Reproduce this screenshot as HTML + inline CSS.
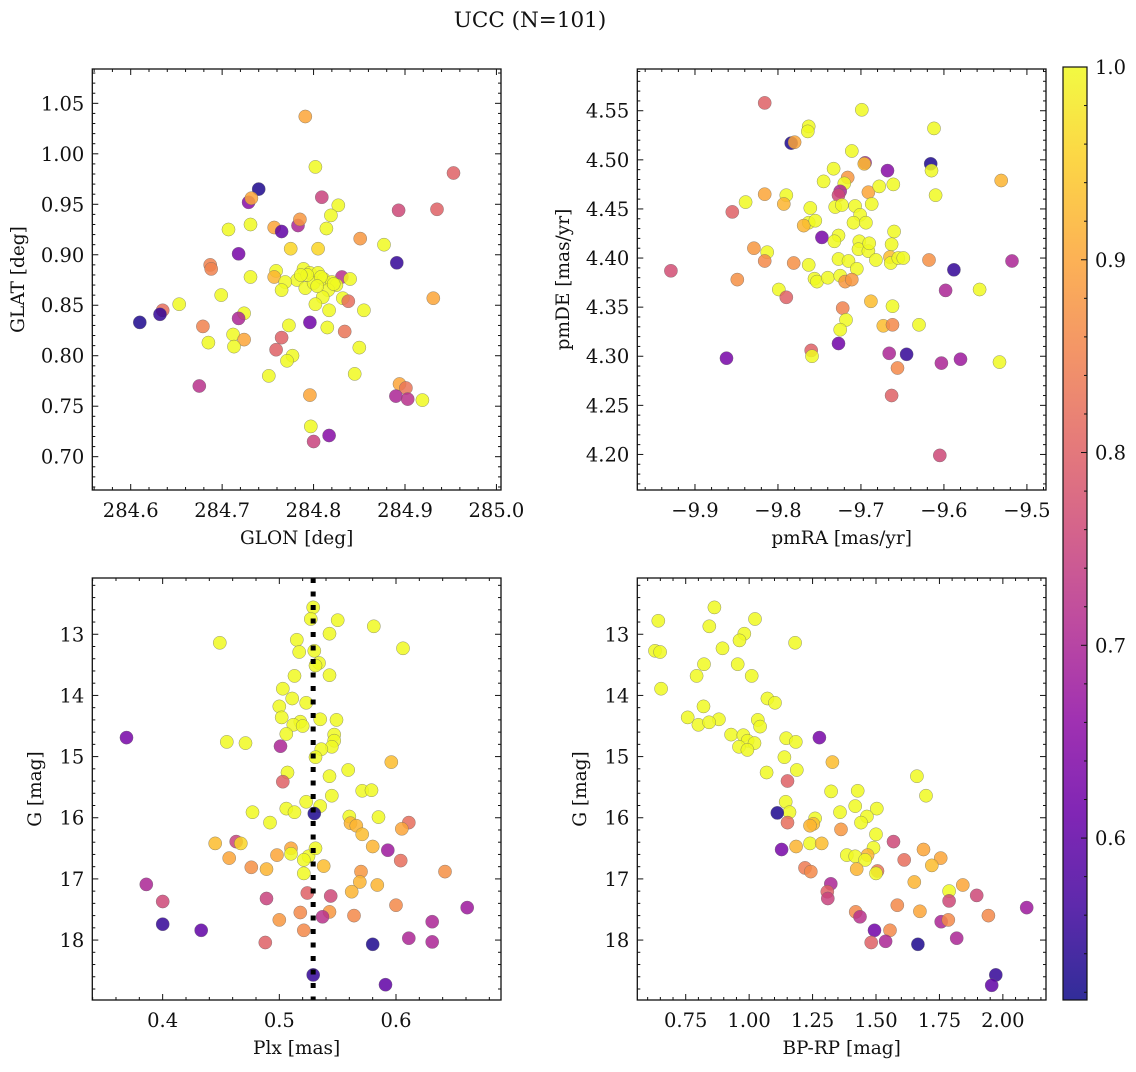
<!DOCTYPE html>
<html><head><meta charset="utf-8"><style>
html,body{margin:0;padding:0;background:#fff;}
svg text{font-family:"DejaVu Serif","Liberation Serif",serif;fill:#111;}
</style></head><body>
<svg id="fig" width="1136" height="1067" viewBox="0 0 1136 1067" xmlns="http://www.w3.org/2000/svg">
<defs><linearGradient id="plasmaGrad" x1="0" y1="1" x2="0" y2="0"></linearGradient></defs>
<text x="530" y="27" font-size="21.5" text-anchor="middle">UCC (N=101)</text>
</svg>
<script>
// ---- Panel 1: GLON vs GLAT ----
const glon = [284.791,284.802,284.953,284.740,284.809,284.729,284.732,284.827,284.893,284.935,284.819,284.731,284.707,284.757,284.765,284.783,284.785,284.814,284.851,284.877,284.775,284.805,284.718,284.891,284.687,284.688,284.759,284.731,284.757,284.789,284.796,284.805,284.831,284.840,284.782,284.769,284.765,284.791,284.800,284.811,284.820,284.825,284.816,284.699,284.653,284.635,284.632,284.610,284.810,284.802,284.832,284.838,284.817,284.855,284.931,284.724,284.718,284.796,284.679,284.773,284.815,284.834,284.712,284.685,284.724,284.713,284.765,284.759,284.850,284.777,284.771,284.751,284.845,284.675,284.894,284.901,284.890,284.903,284.919,284.796,284.797,284.800,284.817,284.793,284.808,284.822,284.786,284.804];
const glat = [1.037,0.987,0.981,0.965,0.957,0.952,0.956,0.949,0.944,0.945,0.939,0.930,0.925,0.927,0.923,0.929,0.935,0.926,0.916,0.910,0.906,0.906,0.901,0.892,0.890,0.886,0.884,0.878,0.878,0.886,0.882,0.882,0.878,0.876,0.875,0.873,0.865,0.867,0.872,0.876,0.873,0.870,0.865,0.860,0.851,0.845,0.841,0.833,0.858,0.851,0.857,0.854,0.845,0.845,0.857,0.842,0.837,0.833,0.829,0.830,0.828,0.824,0.821,0.813,0.816,0.809,0.818,0.806,0.808,0.800,0.795,0.780,0.782,0.770,0.772,0.768,0.760,0.757,0.756,0.761,0.730,0.715,0.721,0.880,0.878,0.871,0.880,0.869];
const prob1 = [0.9,1,0.8,0.53,0.75,0.65,0.9,1,0.76,0.8,1,1,1,0.9,0.6,0.7,0.88,1,0.88,1,0.96,0.96,0.63,0.55,0.85,0.85,1,1,0.92,1,1,1,0.72,1,1,1,1,1,1,1,1,1,1,1,1,0.82,0.55,0.53,1,1,1,0.82,1,1,0.9,1,0.7,0.62,0.85,1,1,0.83,1,1,0.9,1,0.8,0.8,1,1,1,1,1,0.72,0.9,0.83,0.7,0.72,1,0.9,1,0.75,0.65,1,1,1,1,1];

// ---- Panel 2: pmRA vs pmDE ----
const pmra = [-9.816,-9.699,-9.763,-9.764,-9.784,-9.780,-9.612,-9.711,-9.695,-9.696,-9.616,-9.615,-9.668,-9.733,-9.745,-9.716,-9.720,-9.725,-9.727,-9.691,-9.678,-9.661,-9.610,-9.531,-9.816,-9.790,-9.793,-9.839,-9.855,-9.761,-9.763,-9.769,-9.755,-9.731,-9.723,-9.707,-9.701,-9.709,-9.694,-9.687,-9.747,-9.727,-9.732,-9.702,-9.703,-9.691,-9.690,-9.660,-9.663,-9.665,-9.664,-9.655,-9.649,-9.682,-9.829,-9.813,-9.816,-9.781,-9.763,-9.727,-9.715,-9.705,-9.756,-9.753,-9.740,-9.725,-9.719,-9.711,-9.929,-9.849,-9.618,-9.588,-9.518,-9.598,-9.557,-9.799,-9.790,-9.688,-9.662,-9.722,-9.718,-9.725,-9.673,-9.662,-9.630,-9.727,-9.760,-9.759,-9.862,-9.666,-9.645,-9.580,-9.603,-9.533,-9.656,-9.663,-9.605];
const pmde = [4.558,4.551,4.534,4.529,4.517,4.518,4.532,4.509,4.497,4.496,4.496,4.489,4.489,4.491,4.478,4.482,4.476,4.468,4.464,4.467,4.473,4.475,4.464,4.479,4.465,4.464,4.455,4.457,4.447,4.451,4.436,4.433,4.438,4.452,4.454,4.453,4.444,4.436,4.436,4.455,4.421,4.423,4.417,4.417,4.409,4.407,4.415,4.427,4.414,4.401,4.395,4.400,4.400,4.398,4.410,4.406,4.397,4.395,4.393,4.399,4.397,4.389,4.379,4.376,4.380,4.382,4.376,4.378,4.387,4.378,4.398,4.388,4.397,4.367,4.368,4.368,4.360,4.356,4.351,4.349,4.337,4.327,4.331,4.332,4.332,4.313,4.306,4.300,4.298,4.303,4.302,4.297,4.293,4.294,4.288,4.260,4.199];
const prob2 = [0.8,1,1,1,0.53,0.9,1,1,0.7,0.93,0.53,1,0.65,1,1,0.88,1,0.7,0.76,0.9,1,1,1,0.92,0.9,1,0.92,1,0.8,1,1,0.92,1,1,1,1,1,1,1,1,0.63,1,1,1,1,1,1,1,1,0.93,1,1,1,1,0.88,1,0.86,0.87,1,1,1,1,1,1,1,1,0.88,0.88,0.77,0.87,0.87,0.55,0.7,0.7,1,1,0.8,0.93,1,0.85,1,1,0.93,0.86,1,0.62,0.8,1,0.63,0.7,0.55,0.68,0.7,1,0.86,0.8,0.76];

// ---- Panel 3: Plx vs G ----
const plx = [0.529,0.527,0.550,0.581,0.543,0.449,0.515,0.517,0.530,0.606,0.534,0.531,0.513,0.543,0.503,0.511,0.523,0.500,0.502,0.535,0.549,0.518,0.512,0.520,0.506,0.547,0.547,0.545,0.536,0.531,0.455,0.471,0.369,0.501,0.596,0.507,0.503,0.559,0.543,0.571,0.579,0.545,0.523,0.535,0.506,0.513,0.530,0.477,0.492,0.560,0.561,0.566,0.571,0.585,0.611,0.605,0.445,0.463,0.467,0.457,0.498,0.510,0.510,0.525,0.521,0.531,0.580,0.593,0.604,0.476,0.489,0.521,0.538,0.570,0.569,0.584,0.642,0.386,0.400,0.489,0.524,0.544,0.562,0.600,0.661,0.518,0.543,0.537,0.564,0.500,0.631,0.400,0.433,0.521,0.488,0.611,0.631,0.580,0.529,0.591];
const gmag3 = [12.56,12.75,12.77,12.87,12.99,13.14,13.09,13.29,13.27,13.23,13.47,13.51,13.68,13.67,13.89,14.05,14.12,14.18,14.36,14.39,14.40,14.43,14.48,14.50,14.63,14.64,14.74,14.84,14.88,15.01,14.76,14.78,14.69,14.83,15.09,15.26,15.41,15.22,15.32,15.56,15.55,15.64,15.74,15.81,15.85,15.91,15.93,15.91,16.08,15.98,16.09,16.13,16.27,15.99,16.08,16.18,16.42,16.39,16.42,16.66,16.61,16.50,16.59,16.63,16.69,16.50,16.47,16.53,16.70,16.81,16.84,16.91,16.79,16.88,17.05,17.10,16.88,17.09,17.37,17.32,17.23,17.28,17.21,17.43,17.47,17.55,17.54,17.62,17.60,17.67,17.70,17.74,17.84,17.84,18.04,17.97,18.03,18.07,18.57,18.73];
const prob3 = [1,1,1,1,1,1,1,1,1,1,1,1,1,1,1,1,1,1,1,1,1,1,1,1,1,1,1,1,1,1,1,1,0.63,0.7,0.93,1,0.8,1,1,1,1,1,1,1,1,1,0.53,1,1,1,0.92,0.92,0.93,1,0.82,0.9,0.93,0.75,0.96,0.9,0.9,0.9,1,1,1,1,0.92,0.68,0.82,0.87,0.92,1,0.93,0.88,0.92,0.92,0.87,0.7,0.76,0.75,0.8,0.76,0.92,0.86,0.68,0.86,0.88,0.72,0.86,0.88,0.7,0.55,0.6,0.86,0.8,0.7,0.7,0.53,0.55,0.6];
const plxMedian = [0.529];

// ---- Panel 4: BP-RP vs G ----
const bprp = [0.863,0.642,1.023,0.843,0.981,0.962,1.181,0.895,0.629,0.649,0.822,0.955,0.793,1.010,0.653,1.072,1.102,0.820,0.758,0.881,0.800,0.842,1.034,1.043,0.929,0.977,0.994,1.021,0.960,0.993,1.277,1.146,1.184,1.139,1.328,1.069,1.188,1.151,1.661,1.697,1.323,1.428,1.418,1.503,1.144,1.159,1.111,1.358,1.464,1.441,1.260,1.253,1.240,1.151,1.362,1.500,1.569,1.128,1.185,1.240,1.286,1.385,1.418,1.490,1.467,1.457,1.687,1.611,1.755,1.720,1.220,1.243,1.424,1.506,1.500,1.322,1.308,1.310,1.651,1.842,1.788,1.897,1.788,1.584,1.673,1.943,2.094,1.420,1.437,1.757,1.785,1.494,1.555,1.481,1.538,1.818,1.665,1.972,1.956];
const gmag4 = [12.56,12.78,12.75,12.87,12.99,13.10,13.14,13.23,13.27,13.29,13.49,13.49,13.68,13.68,13.89,14.05,14.12,14.18,14.36,14.39,14.48,14.44,14.40,14.51,14.64,14.65,14.74,14.78,14.84,14.89,14.69,14.70,14.76,15.01,15.09,15.26,15.22,15.40,15.32,15.64,15.57,15.56,15.81,15.85,15.74,15.91,15.92,15.91,15.98,16.08,16.01,16.10,16.13,16.08,16.19,16.27,16.39,16.52,16.47,16.42,16.42,16.61,16.63,16.49,16.61,16.69,16.52,16.69,16.66,16.78,16.82,16.88,16.84,16.87,16.91,17.08,17.21,17.32,17.05,17.10,17.20,17.27,17.36,17.43,17.53,17.60,17.47,17.54,17.62,17.70,17.67,17.84,17.84,18.04,18.02,17.97,18.07,18.57,18.74];
const prob4 = [1,1,1,1,1,1,1,1,1,1,1,1,1,1,1,1,1,1,1,1,1,1,1,1,1,1,1,1,1,1,0.63,1,1,1,0.93,1,1,0.8,1,1,1,1,1,1,1,1,0.53,1,1,1,1,0.93,0.92,0.82,0.88,1,0.76,0.63,0.92,1,0.93,1,1,1,0.92,1,0.9,0.82,0.9,0.93,0.84,0.86,0.92,0.83,1,0.7,0.8,0.75,0.92,0.9,1,0.76,0.76,0.86,0.9,0.86,0.68,0.86,0.72,0.7,0.86,0.62,0.86,0.8,0.7,0.7,0.53,0.55,0.6];

// ---- Colorbar ----
const cbarMin = 0.516, cbarMax = 1.0;
const cbarTicks = [0.6,0.7,0.8,0.9,1.0];

const NS = "http://www.w3.org/2000/svg";
const svg = document.getElementById('fig');
function mk(tag, attrs, parent){const e=document.createElementNS(NS,tag);for(const k in attrs)e.setAttribute(k,attrs[k]);(parent||svg).appendChild(e);return e;}

const plasma = ["#0d0887","#41049d","#6a00a8","#8f0da4","#b12a90","#cc4778","#e16462","#f2844b","#fca636","#fcce25","#f0f921"];
function hex(h){return [parseInt(h.substr(1,2),16),parseInt(h.substr(3,2),16),parseInt(h.substr(5,2),16)];}
function cmap(p){let t=(p-cbarMin)/(cbarMax-cbarMin);t=Math.max(0,Math.min(1,t));const f=t*10;const i=Math.min(9,Math.floor(f));const u=f-i;const a=hex(plasma[i]),b=hex(plasma[i+1]);return 'rgb('+a.map((v,k)=>Math.round(v+(b[k]-v)*u)).join(',')+')';}

function fmt(v,d){const s=Math.abs(v).toFixed(d);return (v<0?'\u2212':'')+s;}

const TFS = 19.5, LFS = 18.5;
function panel(cfg){
  const {name,L,R,T,B,x0,x1,y0,y1,xs,ys,ps,xMaj,xMin,yMaj,yMin,xd,yd,xlabel,ylabel,ylabX}=cfg;
  const sx=v=>L+(v-x0)/(x1-x0)*(R-L);
  const sy=v=>T+(v-y0)/(y1-y0)*(B-T);
  const g=mk('g',{});
  
  
  const pts=mk('g',{},g);
  
  
  for(let i=0;i<xs.length;i++){
    const c=mk('circle',{cx:sx(xs[i]).toFixed(1),cy:sy(ys[i]).toFixed(1),r:6.6,fill:cmap(ps[i]),'fill-opacity':0.85,stroke:'#666','stroke-width':0.5,'stroke-opacity':0.7},pts);
    
    
  }
  if(cfg.after) cfg.after(g,sx,sy);
  const fr=mk('rect',{x:L,y:T,width:R-L,height:B-T,fill:'none',stroke:'#111','stroke-width':1.3},g);
  
  
  const eps=1e-9;
  for(let v=Math.ceil(x0/xMin-eps)*xMin; v<=x1+eps; v+=xMin){
    const px=sx(v); const isMaj=Math.abs(v/xMaj-Math.round(v/xMaj))<1e-6; const len=isMaj?6:3;
    mk('line',{x1:px,y1:B,x2:px,y2:B-len,stroke:'#111','stroke-width':1},g);
    mk('line',{x1:px,y1:T,x2:px,y2:T+len,stroke:'#111','stroke-width':1},g);
    if(isMaj){const t=mk('text',{x:px,y:B+27,'font-size':TFS,'text-anchor':'middle'},g);t.textContent=fmt(v,xd);
      
      }
  }
  for(let v=Math.ceil(Math.min(y0,y1)/yMin-eps)*yMin; v<=Math.max(y0,y1)+eps; v+=yMin){
    const py=sy(v); const isMaj=Math.abs(v/yMaj-Math.round(v/yMaj))<1e-6; const len=isMaj?6:3;
    mk('line',{x1:L,y1:py,x2:L+len,y2:py,stroke:'#111','stroke-width':1},g);
    mk('line',{x1:R,y1:py,x2:R-len,y2:py,stroke:'#111','stroke-width':1},g);
    if(isMaj){const t=mk('text',{x:L-8,y:py+7,'font-size':TFS,'text-anchor':'end'},g);t.textContent=fmt(v,yd);
      
      }
  }
  const xl=mk('text',{x:(L+R)/2,y:B+54,'font-size':LFS,'text-anchor':'middle'},g);xl.textContent=xlabel;
  
  
  const yl=mk('text',{x:ylabX,y:(T+B)/2,'font-size':LFS,'text-anchor':'middle',transform:'rotate(-90 '+ylabX+' '+((T+B)/2)+')'},g);yl.textContent=ylabel;
  
  
}

panel({name:'glon-glat-panel',L:92.3,R:501,T:69,B:490,x0:284.558,x1:285.005,y0:1.084,y1:0.667,xs:glon,ys:glat,ps:prob1,xMaj:0.1,xMin:0.02,yMaj:0.05,yMin:0.01,xd:1,yd:2,xlabel:'GLON [deg]',ylabel:'GLAT [deg]',ylabX:24});
panel({name:'pm-panel',L:637.3,R:1046,T:69,B:490,x0:-9.9695,x1:-9.477,y0:4.5925,y1:4.1638,xs:pmra,ys:pmde,ps:prob2,xMaj:0.1,xMin:0.02,yMaj:0.05,yMin:0.01,xd:1,yd:2,xlabel:'pmRA [mas/yr]',ylabel:'pmDE [mas/yr]',ylabX:569});
panel({name:'plx-g-panel',L:92.3,R:501,T:578,B:1000,x0:0.3397,x1:0.69,y0:12.08,y1:18.98,xs:plx,ys:gmag3,ps:prob3,xMaj:0.1,xMin:0.02,yMaj:1,yMin:0.2,xd:1,yd:0,xlabel:'Plx [mas]',ylabel:'G [mag]',ylabX:41,
  after:(g,sx,sy)=>{const l=mk('line',{x1:sx(plxMedian[0]),y1:578,x2:sx(plxMedian[0]),y2:1000,stroke:'#000','stroke-width':5,'stroke-dasharray':'5 8.5'},g);
    
    }});
panel({name:'cmd-panel',L:637.3,R:1046,T:578,B:1000,x0:0.5592,x1:2.170,y0:12.08,y1:18.98,xs:bprp,ys:gmag4,ps:prob4,xMaj:0.25,xMin:0.05,yMaj:1,yMin:0.2,xd:2,yd:0,xlabel:'BP-RP [mag]',ylabel:'G [mag]',ylabX:586});

const grad=document.getElementById('plasmaGrad');
plasma.forEach((c,i)=>mk('stop',{offset:(i*10)+'%','stop-color':c,'stop-opacity':0.85},grad));
const cb=mk('g',{});


const cL=1063,cR=1087,cT=67,cB=1000;
mk('rect',{x:cL,y:cT,width:cR-cL,height:cB-cT,fill:'url(#plasmaGrad)',stroke:'#111','stroke-width':1.2},cb);
const cy=v=>cB-(v-cbarMin)/(cbarMax-cbarMin)*(cB-cT);
for(let v=0.52; v<=1.0001; v+=0.02){const py=cy(v);const maj=Math.abs(v*10-Math.round(v*10))<1e-6;
  mk('line',{x1:cR,y1:py,x2:cR-(maj?6:3),y2:py,stroke:'#111','stroke-width':1},cb);}
cbarTicks.forEach(v=>{const t=mk('text',{x:cR+8,y:cy(v)+7,'font-size':TFS},cb);t.textContent=v.toFixed(1);
  
  });
</script>
</body></html>
